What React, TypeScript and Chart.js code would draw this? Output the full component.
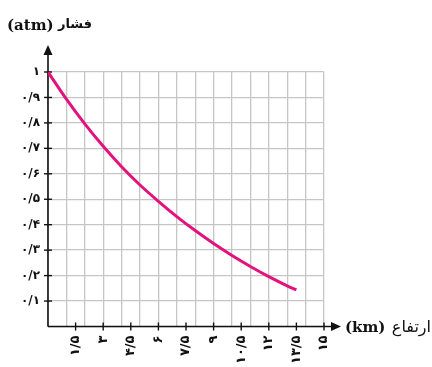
import React, { useEffect, useRef } from "react";
import { Chart, registerables } from "chart.js";

Chart.register(...registerables);

// Data
const altitudeKm = [0, 1, 2, 3, 4, 5, 6, 7, 8, 9, 10, 11, 12, 13, 13.5];
const pressureAtm = [1.0, 0.893, 0.796, 0.708, 0.628, 0.556, 0.492, 0.432, 0.377, 0.326, 0.279, 0.236, 0.196, 0.16, 0.144];

const xTickValues = [1.5, 3, 4.5, 6, 7.5, 9, 10.5, 12, 13.5, 15];
const xTickLabels = ["۱/۵", "۳", "۴/۵", "۶", "۷/۵", "۹", "۱۰/۵", "۱۲", "۱۳/۵", "۱۵"];
const yTickValues = [0.1, 0.2, 0.3, 0.4, 0.5, 0.6, 0.7, 0.8, 0.9, 1];
const yTickLabels = ["۰/۱", "۰/۲", "۰/۳", "۰/۴", "۰/۵", "۰/۶", "۰/۷", "۰/۸", "۰/۹", "۱"];

const yTitleWord = "فشار";
const yTitleUnit = "(atm)";
const xTitleWord = "ارتفاع";
const xTitleUnit = "(km)";

const GRID = "#c6c6c6";
const CURVE = "#e2137d";
const PERSIAN_FONT = "'DejaVu Sans', sans-serif";
const UNIT_FONT = "'DejaVu Serif', serif";

const axesPlugin = {
  id: "axesPlugin",
  beforeDatasetsDraw(chart: any) {
    const { ctx, scales } = chart;
    const xs = scales.x;
    const ys = scales.y;
    const x0 = xs.getPixelForValue(0);
    const y0 = ys.getPixelForValue(0);
    const yTop = ys.getPixelForValue(1) - 27;
    const xEnd = xs.getPixelForValue(15) + 17;
    ctx.save();
    ctx.strokeStyle = "#111";
    ctx.fillStyle = "#111";
    ctx.lineWidth = 1.6;
    // y axis
    ctx.beginPath();
    ctx.moveTo(x0, y0);
    ctx.lineTo(x0, yTop + 8);
    ctx.stroke();
    ctx.beginPath();
    ctx.moveTo(x0, yTop);
    ctx.lineTo(x0 - 4.5, yTop + 10);
    ctx.lineTo(x0 + 4.5, yTop + 10);
    ctx.closePath();
    ctx.fill();
    // x axis
    ctx.beginPath();
    ctx.moveTo(x0, y0);
    ctx.lineTo(xEnd - 8, y0);
    ctx.stroke();
    ctx.beginPath();
    ctx.moveTo(xEnd, y0);
    ctx.lineTo(xEnd - 10, y0 - 4.5);
    ctx.lineTo(xEnd - 10, y0 + 4.5);
    ctx.closePath();
    ctx.fill();
    // tick marks
    ctx.lineWidth = 1.4;
    yTickValues.forEach((v) => {
      const y = ys.getPixelForValue(v);
      ctx.beginPath();
      ctx.moveTo(x0 - 4, y);
      ctx.lineTo(x0 + 4, y);
      ctx.stroke();
    });
    xTickValues.forEach((v) => {
      const x = xs.getPixelForValue(v);
      ctx.beginPath();
      ctx.moveTo(x, y0 - 4);
      ctx.lineTo(x, y0 + 4);
      ctx.stroke();
    });
    // titles
    ctx.textBaseline = "middle";
    ctx.font = `bold 15px ${UNIT_FONT}`;
    ctx.textAlign = "left";
    ctx.fillText(yTitleUnit, 7, 26);
    ctx.font = `bold 13px ${PERSIAN_FONT}`;
    ctx.textAlign = "right";
    ctx.fillText(yTitleWord, 92, 25);

    ctx.font = `bold 15px ${UNIT_FONT}`;
    ctx.textAlign = "left";
    ctx.fillText(xTitleUnit, xEnd + 4, y0 + 2);
    ctx.font = `16px ${PERSIAN_FONT}`;
    ctx.textAlign = "right";
    ctx.fillText(xTitleWord, 431, y0 + 1);
    ctx.restore();
  },
};

export default function App() {
  const canvasRef = useRef<HTMLCanvasElement | null>(null);

  useEffect(() => {
    const canvas = canvasRef.current;
    if (!canvas) return;
    const chart = new Chart(canvas, {
      type: "line",
      data: {
        datasets: [
          {
            data: altitudeKm.map((x, i) => ({ x, y: pressureAtm[i] })),
            borderColor: CURVE,
            borderWidth: 3,
            pointRadius: 0,
            cubicInterpolationMode: "monotone",
            fill: false,
          },
        ],
      },
      options: {
        animation: false,
        responsive: false,
        maintainAspectRatio: false,
        layout: { padding: { left: 0, top: 72, right: 108, bottom: 0 } },
        plugins: {
          legend: { display: false },
          tooltip: { enabled: false },
          title: { display: false },
        },
        scales: {
          x: {
            type: "linear",
            min: 0,
            max: 15,
            border: { display: false },
            grid: {
              drawTicks: false,
              lineWidth: 1.3,
              color: (c: any) => {
                const v = c.tick ? c.tick.value : 0;
                return Math.abs(v - Math.round(v)) < 1e-6 ? GRID : "rgba(0,0,0,0)";
              },
            },
            ticks: {
              stepSize: 0.5,
              autoSkip: false,
              minRotation: 90,
              maxRotation: 90,
              padding: 9,
              color: "#111",
              font: { family: PERSIAN_FONT, size: 13, weight: "bold" },
              callback: (v: any) => {
                const i = xTickValues.findIndex((t) => Math.abs(t - Number(v)) < 1e-6);
                return i >= 0 ? xTickLabels[i] : "";
              },
            },
            afterFit: (s: any) => {
              s.height = 40.5;
            },
          },
          y: {
            type: "linear",
            min: 0,
            max: 1,
            border: { display: false },
            grid: { drawTicks: false, lineWidth: 1.3, color: GRID },
            ticks: {
              stepSize: 0.1,
              padding: 8,
              color: "#111",
              font: { family: PERSIAN_FONT, size: 12, weight: "bold" },
              callback: (v: any) => {
                const i = Math.round(Number(v) * 10);
                return i >= 1 && i <= 10 ? yTickLabels[i - 1] : "";
              },
            },
            afterFit: (s: any) => {
              s.width = 48;
            },
          },
        },
      },
      plugins: [axesPlugin],
    } as any);
    return () => chart.destroy();
  }, []);

  return (
    <div style={{ position: "absolute", left: 0, top: 0, width: 432, height: 367, background: "#fff" }}>
      <canvas ref={canvasRef} width={432} height={367} style={{ width: 432, height: 367, display: "block" }} />
    </div>
  );
}
